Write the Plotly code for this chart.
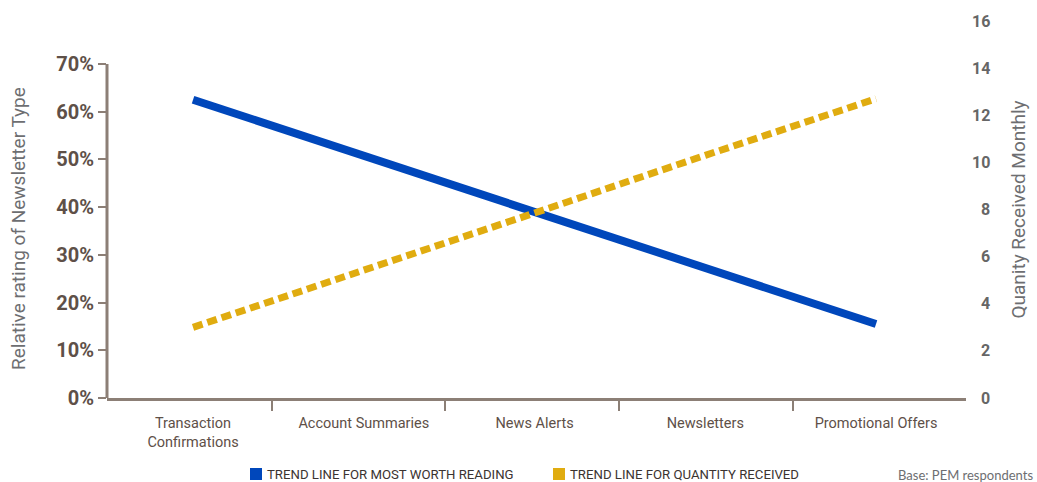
import plotly.graph_objects as go

categories = ["Transaction<br>Confirmations", "Account Summaries", "News Alerts",
              "Newsletters", "Promotional Offers"]
worth_reading = [0.625, 0.5075, 0.39, 0.2725, 0.155]
quantity_received = [3.0, 5.4, 7.85, 10.3, 12.7]
left_ticks = [0, 0.1, 0.2, 0.3, 0.4, 0.5, 0.6, 0.7]
right_ticks = [0, 2, 4, 6, 8, 10, 12, 14, 16]
legend_labels = ["TREND LINE FOR MOST WORTH READING", "TREND LINE FOR QUANTITY RECEIVED"]

BLUE = "#0047BB"
GOLD = "#E0AC10"
AXIS = "#8C7F76"
DARK = "#5E5048"
GRAY = "#6D6E71"
COND = "Roboto, sans-serif"

xidx = list(range(len(categories)))

fig = go.Figure()
fig.add_trace(go.Scatter(x=xidx, y=worth_reading, mode="lines",
                         line=dict(color=BLUE, width=8), yaxis="y", showlegend=False))
fig.add_trace(go.Scatter(x=xidx, y=quantity_received, mode="lines",
                         line=dict(color=GOLD, width=7, dash="10px,5px"), yaxis="y2",
                         showlegend=False))

fig.update_layout(
    width=1037, height=482,
    margin=dict(l=107, r=71, t=21, b=84),
    paper_bgcolor="white", plot_bgcolor="white",
    xaxis=dict(range=[-0.504, 4.527], tickvals=xidx, ticktext=categories,
               showgrid=False, zeroline=False, showline=True, linecolor=AXIS, linewidth=3,
               ticks="", ticklabelstandoff=10,
               tickfont=dict(family=COND, size=14.5, color=DARK),
               minor=dict(tick0=0.46, dtick=1.017, ticks="outside", ticklen=10,
                          tickwidth=2, tickcolor=AXIS, showgrid=False)),
    yaxis=dict(range=[0, 0.79], tickvals=left_ticks, tickformat=".0%",
               showgrid=False, zeroline=False, showline=False,
               ticks="outside", ticklen=8, tickwidth=2, tickcolor=AXIS,
               tickfont=dict(family=COND, size=20, color=DARK, weight="bold")),
    yaxis2=dict(range=[0, 16], tickvals=right_ticks, overlaying="y", side="right",
                showgrid=False, zeroline=False, showline=False, ticks="",
                showticklabels=False,
                title=dict(text="Quanity Received Monthly", standoff=45,
                           font=dict(family=COND, size=19, color=GRAY))),
)

# left axis line only up to 70%
fig.add_shape(type="line", xref="paper", yref="y", x0=0, x1=0, y0=0, y1=0.7,
              line=dict(color=AXIS, width=3))

# left axis title, centred on the 0-70% span
fig.add_annotation(xref="paper", yref="paper", x=(18 - 107) / 859, y=(398 - 229) / 377,
                   text="Relative rating of Newsletter Type", textangle=-90,
                   showarrow=False, xanchor="center", yanchor="middle",
                   font=dict(family=COND, size=19, color=GRAY))

# right axis tick labels, right-aligned
for v in right_ticks:
    fig.add_annotation(xref="paper", yref="y2", x=(992 - 107) / 859, y=v,
                       text=str(v), showarrow=False, xanchor="right", yanchor="middle",
                       font=dict(family=COND, size=16, color="#666666", weight="bold"))

# custom legend
legend_colors = [BLUE, GOLD]
legend_x = [250, 553]
for lab, col, px in zip(legend_labels, legend_colors, legend_x):
    fig.add_shape(type="rect", xref="paper", yref="paper",
                  x0=(px - 107) / 859, x1=(px + 12 - 107) / 859,
                  y0=(398 - 480) / 377, y1=(398 - 468) / 377,
                  fillcolor=col, line=dict(width=0))
    fig.add_annotation(xref="paper", yref="paper", x=(px + 15 - 107) / 859,
                       y=(398 - 474) / 377, text=lab, showarrow=False,
                       xanchor="left", yanchor="middle",
                       font=dict(family=COND, size=13.2, color="#3B3330"))
fig.add_annotation(xref="paper", yref="paper", x=(1035 - 107) / 859,
                   y=(398 - 475) / 377, text="Base: PEM respondents", showarrow=False,
                   xanchor="right", yanchor="middle",
                   font=dict(family="Lato, sans-serif", size=13, color="#6D6E71"))

fig.write_html("out.html")
